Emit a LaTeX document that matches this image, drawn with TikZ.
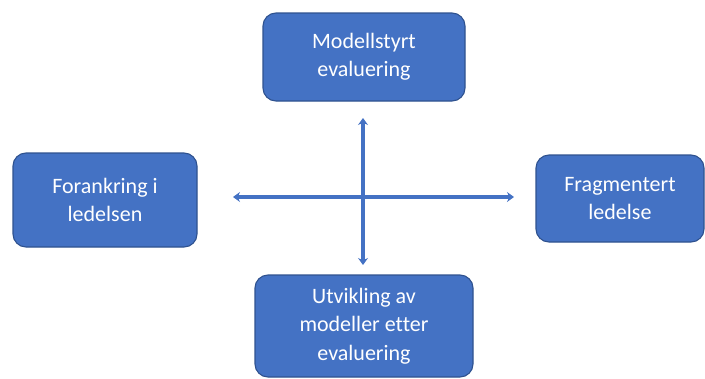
\documentclass[tikz,border=0pt]{standalone}
\usepackage{fontspec}
\setmainfont{Carlito}[Ligatures={NoCommon}]
\usetikzlibrary{arrows.meta}
\definecolor{boxblue}{HTML}{4472C4}
\definecolor{boxline}{HTML}{2F528F}
\begin{document}
\begin{tikzpicture}[x=1pt,y=-1pt,
  box node/.style={draw=boxline,fill=boxblue,line width=1.1pt,rounded corners=13pt,
    text=white,align=center,font=\fontsize{22}{28.5}\selectfont,inner sep=0pt},
  akse/.style={draw=boxblue,line width=3.6pt,{Stealth[length=7pt,width=10pt]}-{Stealth[length=7pt,width=10pt]}}]

  \useasboundingbox (0,0) rectangle (705,378);

  \node[box node,minimum width=202pt,minimum height=88pt] (modell) at (364,57) {Modellstyrt\\evaluering};
  \node[box node,minimum width=184pt,minimum height=94pt] (forank) at (105,200) {Forankring i\\ledelsen};
  \node[box node,minimum width=168pt,minimum height=87pt] (frag) at (620,198.5) {Fragmentert\\ledelse};
  \node[box node,minimum width=218pt,minimum height=102pt] (utv) at (364,326) {Utvikling av\\modeller etter\\evaluering};

  \coordinate (top) at (363,118);
  \coordinate (bunn) at (363,265);
  \coordinate (venstre) at (233,197);
  \coordinate (hoyre) at (514,197);

  \draw[akse] (top) -- (bunn);
  \draw[akse] (venstre) -- (hoyre);
\end{tikzpicture}
\end{document}
